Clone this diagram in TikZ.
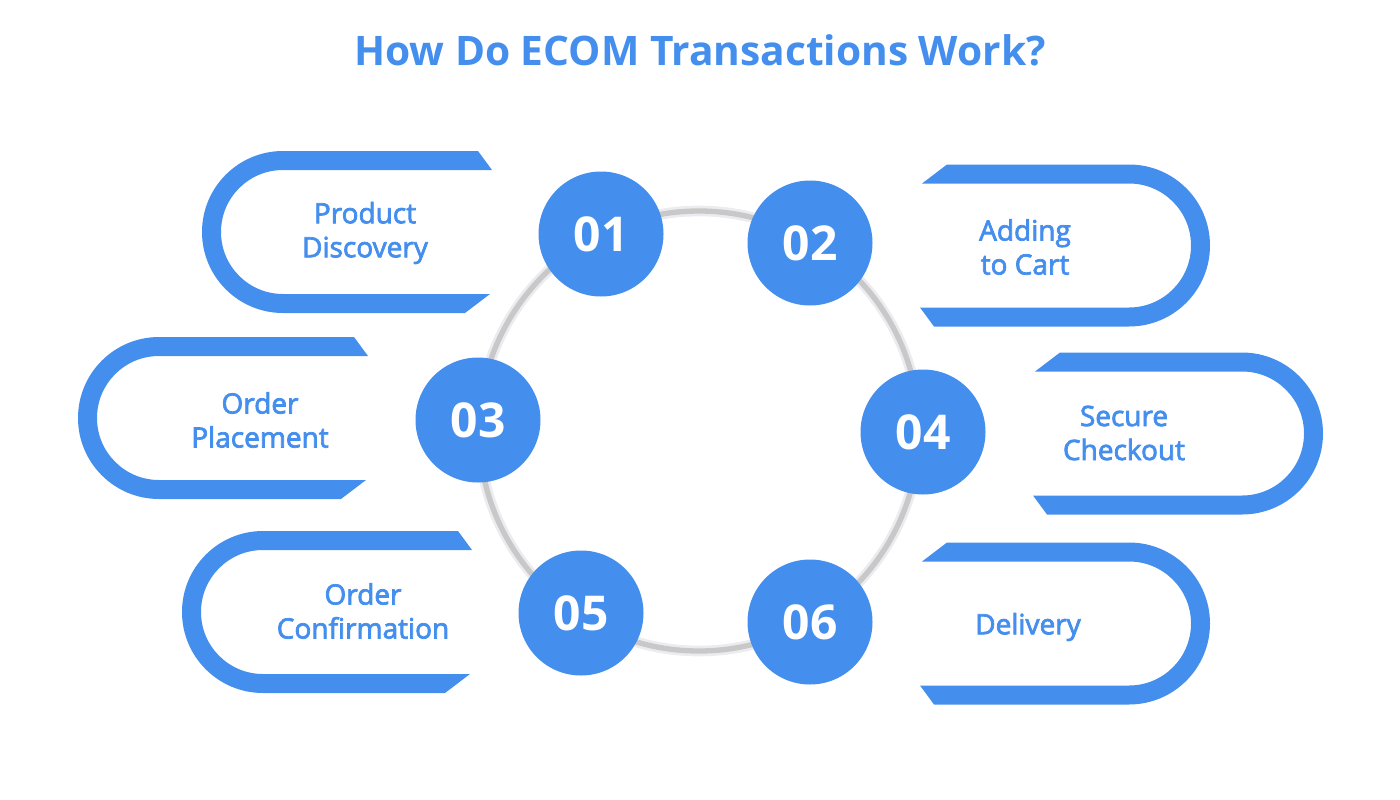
\documentclass[tikz,border=0pt]{standalone}
\usepackage{fontspec}
\setmainfont{Open Sans}
\newfontfamily\labelfont{Open Sans}[FakeBold=2.6]
\definecolor{ecomblue}{RGB}{68,142,238}
\definecolor{ringgray}{RGB}{200,200,200}
\definecolor{ringshade}{RGB}{236,236,240}

\tikzset{every picture/.style={line width=0.75pt}}
\tikzset{
  pillfill/.style={fill=ecomblue, draw=none},
  numdisc/.style={circle, fill=ecomblue, text=white, minimum size=93.75pt, inner sep=0pt,
    font=\fontsize{36}{36}\selectfont\bfseries},
  steplabel/.style={text=ecomblue, align=center, inner sep=0.75pt,
    font=\labelfont\fontsize{21}{25.5}\selectfont},
  %open pill, origin at its rounded left end
  pics/leftpill/.style={code={
    \fill[pillfill] (263,-81) -- (81,-81) arc[start angle=270, end angle=90, radius=81]
      -- (276,81) -- (290,62) -- (81,62) arc[start angle=90, end angle=270, radius=62]
      -- (288,-62) -- cycle;
  }}
}

\begin{document}
\begin{tikzpicture}[x=0.75pt,y=0.75pt,yscale=-1,xscale=1]
\useasboundingbox (0,0) rectangle (1400,800);
        % Text Node
        \node[text=ecomblue, font=\fontsize{30.5}{30.5}\selectfont\bfseries] (title) at (700,50) {How Do ECOM Transactions Work?};
        %Shape: Circle (ring)
        \draw[ringshade, line width=8pt] (699,431) circle[radius=220];
        \draw[ringgray, line width=4pt] (699,431) circle[radius=220];
        %Shape: Pills left
        \pic at (202,232) {leftpill};
        \pic at (78,418) {leftpill};
        \pic at (182,612) {leftpill};
        %Shape: Pills right
        \pic[rotate=180] at (1210,245.5) {leftpill};
        \pic[rotate=180] at (1323,433.5) {leftpill};
        \pic[rotate=180] at (1210,623.5) {leftpill};
        % Number discs
        \node[numdisc] (n01) at (601,234) {01};
        \node[numdisc] (n02) at (810,243) {02};
        \node[numdisc] (n03) at (478,420) {03};
        \node[numdisc] (n04) at (923,432) {04};
        \node[numdisc] (n05) at (581,613) {05};
        \node[numdisc] (n06) at (810,622) {06};
        % Text Node
        \node[steplabel] (t01) at (365,233) {Product\\Discovery};
        \node[steplabel] (t02) at (1025,247) {Adding\\to Cart};
        \node[steplabel] (t03) at (260,420) {Order\\Placement};
        \node[steplabel] (t04) at (1124,433) {Secure\\Checkout};
        \node[steplabel] (t05) at (363,611) {Order\\Confirmation};
        \node[steplabel] (t06) at (1028,627) {Delivery};
\end{tikzpicture}
\end{document}
